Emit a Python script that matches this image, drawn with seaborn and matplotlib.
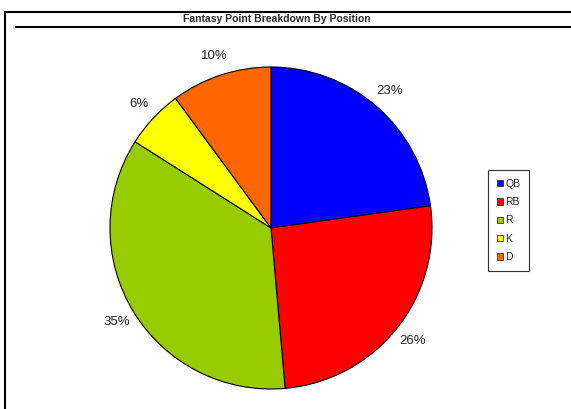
import numpy as np
import seaborn as sns
import matplotlib.pyplot as plt
from matplotlib.lines import Line2D
from matplotlib.patches import Patch

sns.set_style("white")
plt.rcParams['font.family'] = ['Liberation Sans', 'DejaVu Sans']

# Data (share of fantasy points, %)
positions = ["QB", "RB", "R", "K", "D"]
shares = [22.8, 25.8, 35.4, 5.9, 10.1]
colors = ["#0000FF", "#FF0000", "#99CC00", "#FFFF00", "#FF6600"]

W, H = 571, 409
fig = plt.figure(figsize=(W / 100, H / 100), dpi=100)

# pie centre (271, 228) px from top-left, radius 161 px
cx, cy, r = 271, 228, 161
ax = fig.add_axes([(cx - r) / W, (H - cy - r) / H, 2 * r / W, 2 * r / H])

wedges, texts, autotexts = ax.pie(
    shares, colors=colors, startangle=90, counterclock=False,
    autopct="%1.0f%%", pctdistance=1.125,
    wedgeprops=dict(edgecolor="black", linewidth=0.8),
    textprops=dict(fontsize=9.5, color="#222222"))
ax.set_xlim(-1, 1)
ax.set_ylim(-1, 1)
ax.set_aspect("equal")
ax.axis("off")

# title and frame lines
fig.text(277 / W, 1 - 19 / H, "Fantasy Point Breakdown By Position",
         ha="center", va="center", fontsize=7.5, fontweight="bold")
fig.add_artist(Line2D([4.5 / W, 1], [1 - 11.5 / H, 1 - 11.5 / H],
                      transform=fig.transFigure, color="black", lw=1.5))
fig.add_artist(Line2D([16 / W, 1], [1 - 26.5 / H, 1 - 26.5 / H],
                      transform=fig.transFigure, color="black", lw=1.5))
fig.add_artist(Line2D([4.5 / W, 4.5 / W], [0, 1 - 11.5 / H],
                      transform=fig.transFigure, color="black", lw=1.5))

handles = [Patch(facecolor=c, edgecolor="#333333", linewidth=0.6) for c in colors]
leg = fig.legend(handles, positions, loc="center",
                 bbox_to_anchor=(508.5 / W, 1 - 220.5 / H),
                 frameon=True, fancybox=False, fontsize=7.5,
                 handlelength=0.6, handleheight=0.6, handletextpad=0.25,
                 labelspacing=0.8, borderpad=0.8, borderaxespad=0)
leg.get_frame().set_edgecolor("black")
leg.get_frame().set_linewidth(0.8)

fig.savefig("out.png", dpi=100)
